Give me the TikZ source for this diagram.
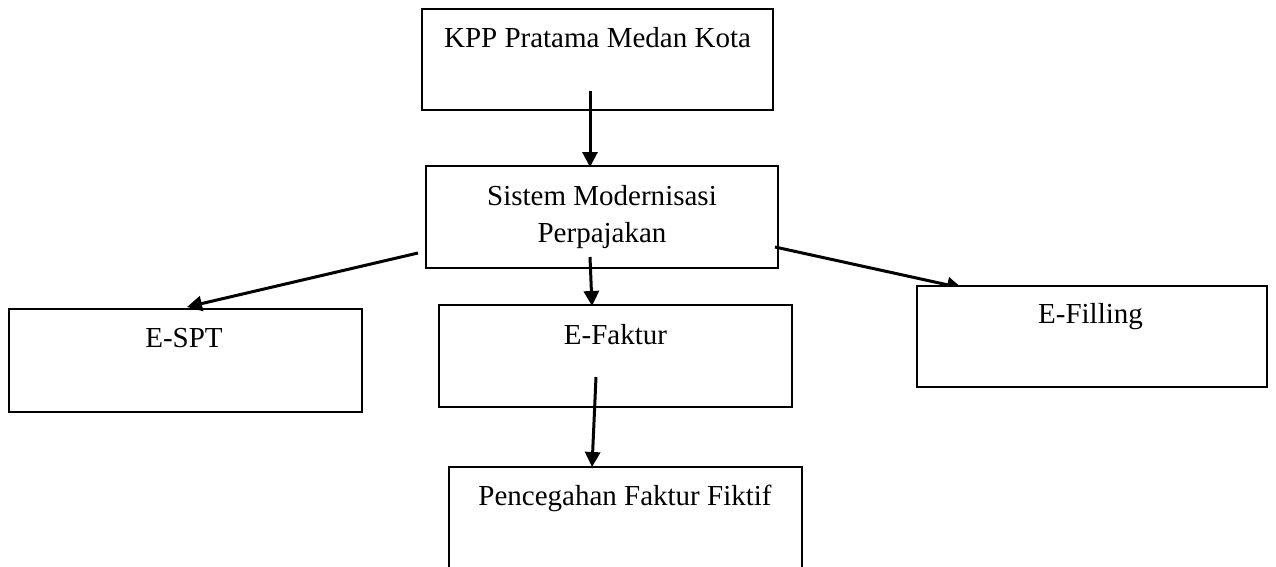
\documentclass[tikz,border=0pt]{standalone}
\usepackage{fontspec}
\setmainfont{Liberation Serif}
\usetikzlibrary{arrows.meta}
\begin{document}
\begin{tikzpicture}[x=1pt,y=-1pt,
  box/.style={draw=black, line width=2pt, fill=white, inner sep=0pt},
  lbl/.style={anchor=base, inner sep=0pt, font=\fontsize{29}{37}\selectfont, align=center},
  arr/.style={line width=3pt, -{Triangle[length=15pt,width=15pt]}}]
\useasboundingbox (0,0) rectangle (1276,567);
\clip (0,0) rectangle (1276,567);
% connector end points
\coordinate (a1s) at (590,91);
\coordinate (a1e) at (590,167);
\coordinate (a2s) at (418,253);
\coordinate (a2e) at (187,307);
\coordinate (a3s) at (590,257);
\coordinate (a3e) at (592,306);
\coordinate (a4s) at (775,247);
\coordinate (a4e) at (962,288);
\coordinate (a5s) at (596,377);
\coordinate (a5e) at (592,467);
% boxes
\node[box, minimum width=351pt, minimum height=101pt] (kpp) at (597.5,60) {};
\node[box, minimum width=352pt, minimum height=102pt] (smp) at (602,217) {};
\node[box, minimum width=353pt, minimum height=103pt] (espt) at (185.5,360.5) {};
\node[box, minimum width=353pt, minimum height=102pt] (efak) at (615.5,356) {};
\node[box, minimum width=353pt, minimum height=120pt] (pf) at (625.5,527) {};
\node[lbl] (kppt) at (597.5,48) {KPP Pratama Medan Kota};
\node[lbl] (smpt) at (602,242) {Sistem Modernisasi\\Perpajakan};
\node[lbl] (esptt) at (184,347) {E-SPT};
\node[lbl] (efakt) at (615.5,344) {E-Faktur};
\node[lbl] (pft) at (625,505) {Pencegahan Faktur Fiktif};
% connectors
\draw[arr] (a1s) -- (a1e);
\draw[arr] (a2s) -- (a2e);
\draw[arr] (a3s) -- (a3e);
\draw[arr] (a4s) -- (a4e);
\draw[arr] (a5s) -- (a5e);
% E-Filling box drawn over its arrow tip
\node[box, minimum width=350pt, minimum height=101pt] (efil) at (1092,336.5) {};
\node[lbl] (efilt) at (1090.5,323) {E-Filling};
\end{tikzpicture}
\end{document}
